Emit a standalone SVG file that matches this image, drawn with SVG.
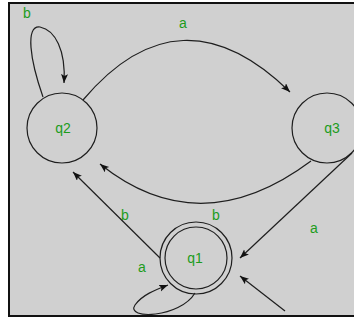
<svg xmlns="http://www.w3.org/2000/svg" width="354" height="322" viewBox="0 0 354 322">
<style>
.st{fill:none;stroke:#1e1e1e;stroke-width:1.2}
.lb{font-family:"Liberation Sans",Arial,sans-serif;font-size:14px;fill:#1c9c1c}
.nl{font-family:"Liberation Sans",Arial,sans-serif;font-size:14px;fill:#1c9c1c;text-anchor:middle}
</style>
<defs>
<marker id="ah" markerUnits="userSpaceOnUse" markerWidth="10" markerHeight="8" refX="9" refY="3.5" orient="auto">
<path d="M0,0 L9,3.5 L0,7 L2,3.5 z" fill="#111"/>
</marker>
</defs>
<rect x="0" y="0" width="354" height="322" fill="#fff"/>
<rect x="9" y="3" width="360" height="313" fill="#d0d0d0" stroke="#111" stroke-width="2"/>
<g id="connectors">
<path class="st" d="M43 97 C30 60 25 25 40 27 C55 30 66 50 64 83" marker-end="url(#ah)"/>
<path class="st" d="M83 100 Q180 -15 290 92" marker-end="url(#ah)"/>
<path class="st" d="M311 161 Q200 244 100 164" marker-end="url(#ah)"/>
<path class="st" d="M160 258 L73 172" marker-end="url(#ah)"/>
<path class="st" d="M352 153 L240 258" marker-end="url(#ah)"/>
<path class="st" d="M195 293 C180 318 125 320 135 305 C142 295 155 290 168 285" marker-end="url(#ah)"/>
<path class="st" d="M285 311 L240 276" marker-end="url(#ah)"/>
</g>
<g id="q2">
<circle class="st" cx="62" cy="128" r="35"/>
<text class="nl" x="63" y="133">q2</text>
</g>
<g id="q3">
<circle class="st" cx="327" cy="128" r="35"/>
<text class="nl" x="332" y="133">q3</text>
</g>
<g id="q1">
<circle class="st" cx="196" cy="258" r="36"/>
<circle class="st" cx="196" cy="258" r="31"/>
<text class="nl" x="195" y="263">q1</text>
</g>
<g id="labels">
<text class="lb" x="23" y="18">b</text>
<text class="lb" x="179" y="28">a</text>
<text class="lb" x="121" y="220">b</text>
<text class="lb" x="212" y="220">b</text>
<text class="lb" x="310" y="233">a</text>
<text class="lb" x="138" y="272">a</text>
</g>
</svg>
